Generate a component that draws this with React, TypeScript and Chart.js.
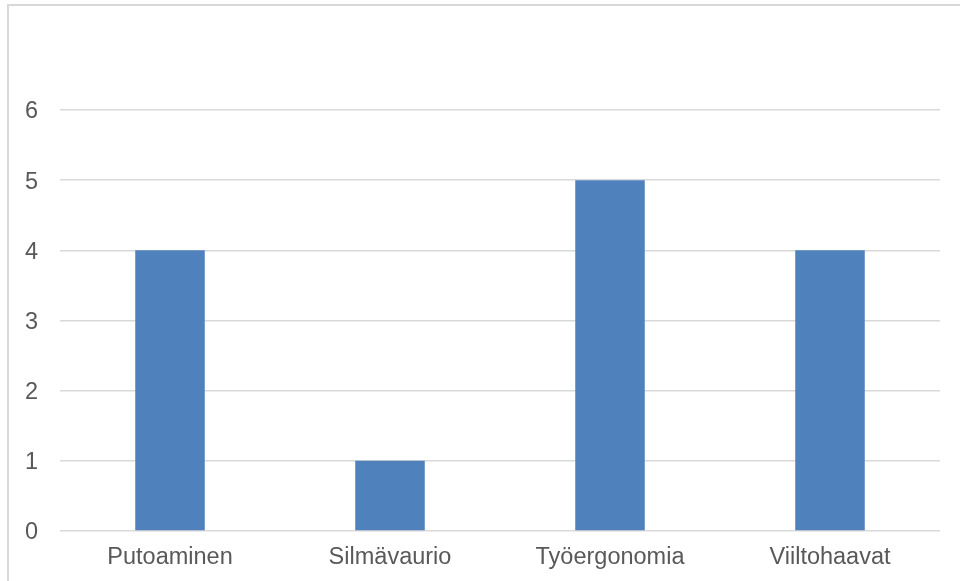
import React, { useEffect, useRef } from "react";
import { Chart, registerables } from "chart.js";

Chart.register(...registerables);

const categories = ["Putoaminen", "Silmävaurio", "Työergonomia", "Viiltohaavat"];
const values = [4, 1, 5, 4];
const yMin = 0;
const yMax = 6;
const yStep = 1;

export default function App() {
  const ref = useRef<HTMLCanvasElement>(null);
  useEffect(() => {
    if (!ref.current) return;
    const font = { family: "'Liberation Sans', Arial, sans-serif", size: 23.5 };
    const chart = new Chart(ref.current, {
      type: "bar",
      data: {
        labels: categories,
        datasets: [
          {
            data: values,
            backgroundColor: "#4F81BD",
            borderWidth: 0,
            categoryPercentage: 1,
            barPercentage: 0.316,
          },
        ],
      },
      options: {
        animation: false,
        responsive: false,
        maintainAspectRatio: false,
        layout: { padding: { top: 110, right: 20, left: 0, bottom: 0 } },
        plugins: { legend: { display: false }, tooltip: { enabled: false } },
        scales: {
          x: {
            grid: { display: false, drawTicks: false },
            border: { display: false },
            ticks: { color: "#595959", font, padding: 12 },
            afterFit: (s: any) => {
              s.height = 50;
            },
          },
          y: {
            min: yMin,
            max: yMax,
            grid: { color: "#d9d9d9", lineWidth: 1.5, drawTicks: false },
            border: { display: false },
            ticks: { stepSize: yStep, color: "#595959", font, padding: 22, labelOffset: 2 },
            afterFit: (s: any) => {
              s.width = 60;
            },
          },
        },
      },
    });
    return () => chart.destroy();
  }, []);
  return (
    <div style={{ position: "fixed", left: 0, top: 0, width: 960, height: 581, background: "#fff", overflow: "hidden" }}>
      <div
        style={{
          position: "absolute",
          left: 7,
          top: 4,
          width: 1000,
          height: 700,
          border: "2px solid #d9d9d9",
        }}
      />
      <canvas ref={ref} width={960} height={581} style={{ position: "absolute", left: 0, top: 0 }} />
    </div>
  );
}
